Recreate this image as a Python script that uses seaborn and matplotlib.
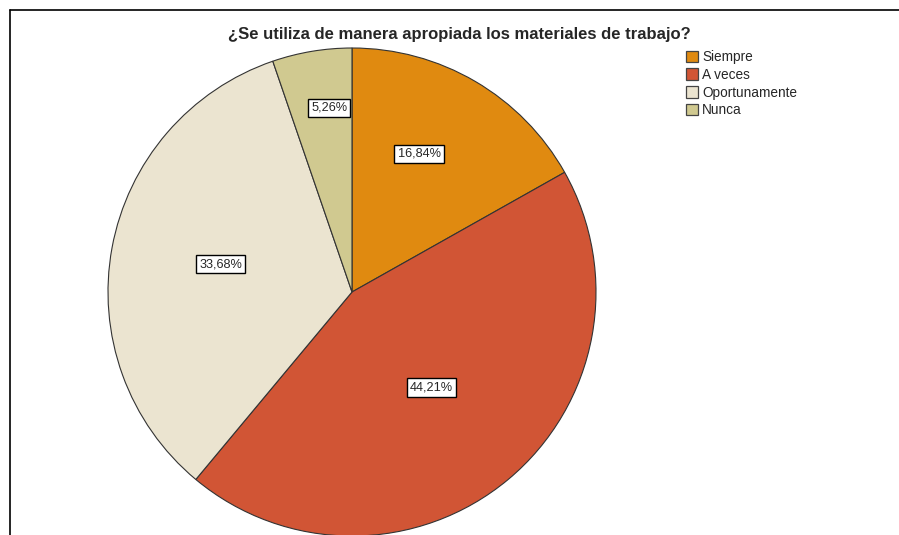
import numpy as np
import seaborn as sns
import matplotlib.pyplot as plt
from matplotlib.lines import Line2D
from matplotlib.patches import Patch

categories = ["Siempre", "A veces", "Oportunamente", "Nunca"]
percentages = [16.84, 44.21, 33.68, 5.26]
colors = ["#E08A10", "#D15535", "#EBE4D0", "#D0C990"]
title = "¿Se utiliza de manera apropiada los materiales de trabajo?"

sns.set_style("white")
plt.rcParams["font.family"] = ["Liberation Sans", "DejaVu Sans"]

fig = plt.figure(figsize=(8.99, 5.35), dpi=100)
ax = fig.add_axes([108 / 899, -1 / 535, 488 / 899, 488 / 535])

palette = sns.color_palette(colors)
wedges, _ = ax.pie(
    percentages,
    colors=palette,
    startangle=90,
    counterclock=False,
    radius=1.0,
    wedgeprops=dict(edgecolor="#333333", linewidth=0.8),
)
ax.set_xlim(-1, 1)
ax.set_ylim(-1, 1)
ax.set_aspect("equal")
ax.axis("off")

# where each value label sits: (fraction of radius, angle in degrees)
label_pos = [(0.629, 64.1), (0.509, -50.2), (0.551, 168.0), (0.760, 97.1)]
for p, (d, a) in zip(percentages, label_pos):
    ang = np.deg2rad(a)
    ax.text(
        d * np.cos(ang), d * np.sin(ang),
        f"{p:.2f}%".replace(".", ","),
        ha="center", va="center", fontsize=9.2,
        bbox=dict(boxstyle="square,pad=0.25", facecolor="white", edgecolor="black", linewidth=1.0),
    )

fig.text(459 / 899, 1 - 34 / 535, title, ha="center", va="center",
         fontsize=12, fontweight="bold")

handles = [Patch(facecolor=c, edgecolor="#444444", linewidth=0.9) for c in palette]
fig.legend(
    handles, categories,
    loc="upper left", bbox_to_anchor=(686 / 899, 1 - 50 / 535),
    frameon=False, fontsize=9.8,
    handlelength=0.9, handleheight=0.9, handletextpad=0.3,
    labelspacing=0.28, borderpad=0, borderaxespad=0,
)

# partial frame around the chart
fig.add_artist(Line2D([10 / 899, 1], [1 - 10 / 535] * 2, color="black", linewidth=1.2))
fig.add_artist(Line2D([10 / 899] * 2, [0, 1 - 10 / 535], color="black", linewidth=1.2))

fig.savefig("out.png", dpi=100)
